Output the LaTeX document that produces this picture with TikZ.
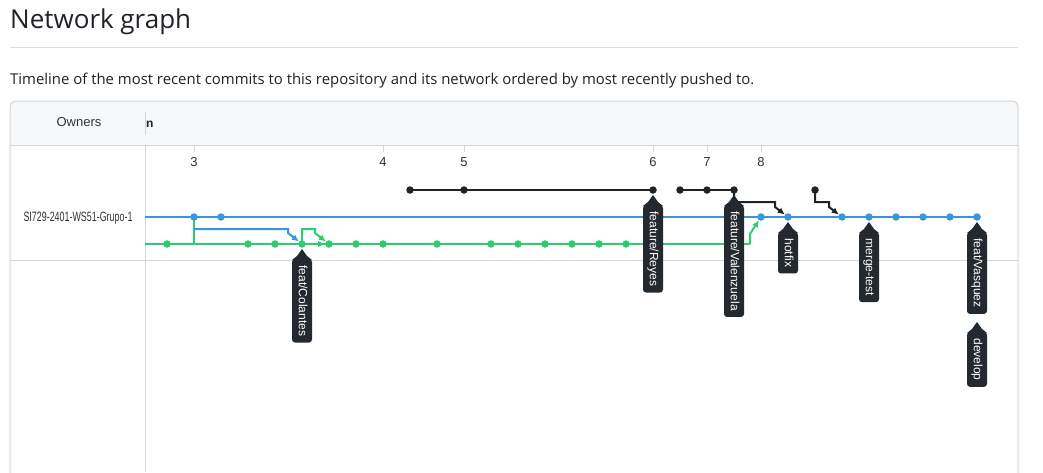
\documentclass[tikz,border=0pt]{standalone}
\usepackage{fontspec}
\usepackage{graphicx}
\setmainfont{Liberation Sans}
\newfontfamily\uifont{Open Sans}
\usetikzlibrary{arrows.meta,backgrounds}
\definecolor{gblue}{HTML}{3498DB}
\definecolor{ggreen}{HTML}{2ECC71}
\definecolor{gblack}{HTML}{1F2328}
\definecolor{tagbg}{HTML}{24292F}
\definecolor{framec}{HTML}{D0D7DE}
\definecolor{rulec}{HTML}{D8DEE4}
\definecolor{hdrbg}{HTML}{F6F8FA}
\definecolor{txt}{HTML}{1F2328}
\definecolor{gtxt}{HTML}{333333}
\newcommand\tagptr[1]{\fill[tagbg] (#1.west) ++(-10,1) -- ++(5,-4) -- ++(5,-7) -- ++(5,7) -- ++(5,4) -- cycle;}
\tikzset{
  commit/.style={circle, fill=#1, inner sep=0pt, minimum size=7.5pt},
  bluel/.style={draw=gblue, line width=2.3pt},
  greenl/.style={draw=ggreen, line width=2.3pt},
  blackl/.style={draw=gblack, line width=2.3pt},
  brl/.style={line width=2pt},
  arrowend/.style={-{Latex[length=7pt,width=6.5pt]}},
  tagbox/.style={fill=tagbg, text=white, rounded corners=3pt, rotate=-90, anchor=west,
    font=\fontsize{12}{12}\selectfont, text height=8.8pt, text depth=2.6pt,
    inner xsep=6.3pt, inner ysep=0pt, minimum height=20pt},
  colnum/.style={font=\fontsize{13}{13}\selectfont, text=gtxt, inner sep=0pt},
}
\begin{document}
\begin{tikzpicture}[x=1pt,y=-1pt]
\useasboundingbox (0,0) rectangle (1043,472);
\begin{scope}[on background layer]
  \fill[white] (0,0) rectangle (1043,472);
  \draw[rulec, line width=1pt] (10,47) -- (1018,47);
  \fill[hdrbg, rounded corners=6pt] (10,101) rectangle (1018,170);
  \fill[white] (10,145) rectangle (1018,472);
  \draw[framec, line width=1pt, rounded corners=6pt] (10,480) -- (10,101) -- (1018,101) -- (1018,480);
  \draw[framec, line width=1pt] (10,145) -- (1018,145);
  \draw[framec, line width=1pt] (10,260) -- (1018,260);
  \draw[framec, line width=1pt] (145,145) -- (145,472);
  \draw[framec, line width=1pt] (145,112) -- (145,135);
\end{scope}

% texts
\node[anchor=base west, font=\uifont\fontsize{26}{26}\selectfont, text=txt, inner sep=0pt] (title) at (10,28) {Network graph};
\node[anchor=base west, font=\uifont\fontsize{14.9}{14.9}\selectfont, text=txt, inner sep=0pt] (subtitle) at (10,84) {Timeline of the most recent commits to this repository and its network ordered by most recently pushed to.};
\node[font=\fontsize{13}{13}\selectfont, text=gtxt, inner sep=0pt] (owners) at (79,122) {Owners};
\node[font=\bfseries\fontsize{12}{12}\selectfont, text=txt, anchor=west, inner sep=0pt] (nlabel) at (146,124) {n};
\node[font=\fontsize{13.5}{13.5}\selectfont, text=gtxt, inner sep=0pt] (owner) at (78,218) {\scalebox{0.66}[1]{SI729-2401-WS51-Grupo-1}};

% column numbers and ticks
\foreach \i/\c in {2/3, 9/4, 12/5, 19/6, 21/7, 23/8} {
  \node[colnum] (col\c) at ({140+27*\i},162) {\c};
  \draw[framec, line width=1pt] ({140+27*\i},145) -- ({140+27*\i},152);
}

% commits
\foreach \i in {2,3,23,24,26,27,28,29,30,31}
  \node[commit=gblue] (b\i) at ({140+27*\i},217) {};
\foreach \i in {1,4,5,6,7,8,9,11,13,14,15,16,17,18}
  \node[commit=ggreen] (g\i) at ({140+27*\i},244) {};
\foreach \i in {10,12,19,20,21,22,25}
  \node[commit=gblack] (k\i) at ({140+27*\i},190) {};

\coordinate (bstart) at (145,217);
\coordinate (gstart) at (145,244);
\coordinate (gend) at (750,244);
\coordinate (gup) at (750,234);
\coordinate (bb1) at (194,229);
\coordinate (bb2) at (288,229);
\coordinate (bb3) at (288,233);
\coordinate (gb1) at (302,229);
\coordinate (gb2) at (315,229);
\coordinate (gb3) at (315,233);
\coordinate (kh1) at (734,202);
\coordinate (kh2) at (775,202);
\coordinate (kh3) at (775,207);
\coordinate (km1) at (815,202);
\coordinate (km2) at (829,202);
\coordinate (km3) at (829,207);

\begin{scope}[on background layer]
  \draw[bluel] (bstart) -- (b31.center);
  \draw[greenl] (gstart) -- (gend);
  \draw[greenl, brl, arrowend] (gend) -- (gup) -- (b23);
  \draw[greenl] (b2.center) -- (b2.center |- gstart);
  \draw[bluel, brl, arrowend] (bb1) -- (bb2) -- (bb3) -- (g6);
  \draw[greenl, brl, arrowend] (g6.center) -- (gb1) -- (gb2) -- (gb3) -- (g7);
  \draw[greenl, arrowend] (g6) -- (g7);
  \draw[blackl] (k10.center) -- (k12.center) -- (k19.center);
  \draw[blackl] (k20.center) -- (k21.center) -- (k22.center);
  \draw[blackl, brl, arrowend] (k22.center) -- (kh1) -- (kh2) -- (kh3) -- (b24);
  \draw[blackl, brl, arrowend] (k25.center) -- (km1) -- (km2) -- (km3) -- (b26);
\end{scope}

% branch tags
\node[tagbox] (tcolantes) at (302,259) {feat/Colantes};
\node[tagbox] (treyes) at (653,205) {feature/Reyes};
\node[tagbox] (tvalenzuela) at (734,205) {feature/Valenzuela};
\node[tagbox] (thotfix) at (788,232) {hotfix};
\node[tagbox] (tmerge) at (869,232) {merge-test};
\node[tagbox] (tvasquez) at (977,232) {feat/Vasquez};
\node[tagbox] (tdevelop) at (977,332) {develop};
\tagptr{tcolantes}
\tagptr{treyes}
\tagptr{tvalenzuela}
\tagptr{thotfix}
\tagptr{tmerge}
\tagptr{tvasquez}
\tagptr{tdevelop}
\end{tikzpicture}
\end{document}
